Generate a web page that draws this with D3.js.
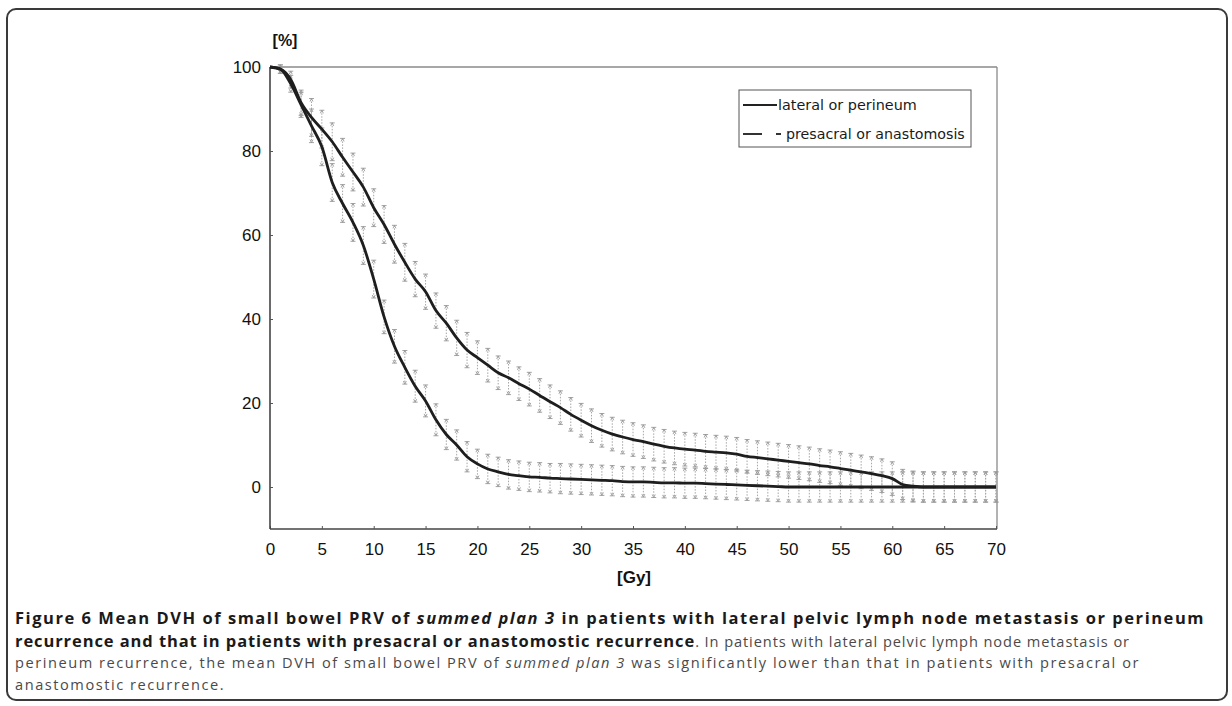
<!DOCTYPE html>
<html><head><meta charset="utf-8">
<script src="https://cdn.jsdelivr.net/npm/d3@7"></script>
<style>
html,body{margin:0;padding:0;background:#fff;}
svg{display:block;}
</style></head>
<body>
<svg id="chart" width="1232" height="706"></svg>
<script>
// ---- data ----
const doseGy = d3.range(0, 71); // 0..70 Gy, 1 Gy step
const lateralMean = [100,99.5,96,91,86,81,72.5,67.5,63,57.5,49.5,40.5,33.5,28.5,24,20.5,16,12.5,10,7.2,5.5,4.3,3.6,3.0,2.7,2.4,2.3,2.1,2.0,1.9,1.8,1.7,1.6,1.5,1.3,1.2,1.2,1.1,1.0,1.0,0.9,0.9,0.8,0.7,0.6,0.5,0.4,0.3,0.2,0.1,0,0,0,0,0,0,0,0,0,0,0,0,0,0,0,0,0,0,0,0,0];
const lateralSD   = [0,1,2,3,4,4.5,4.5,4.5,4.5,4.5,4.5,4,4,4,3.8,3.8,3.8,3.6,3.6,3.6,3.5,3.5,3.5,3.5,3.5,3.5,3.5,3.5,3.6,3.6,3.6,3.6,3.6,3.6,3.6,3.6,3.6,3.6,3.6,3.6,3.6,3.6,3.6,3.6,3.6,3.6,3.6,3.6,3.6,3.6,3.6,3.6,3.6,3.6,3.6,3.6,3.6,3.6,3.6,3.6,3.6,3.6,3.6,3.6,3.6,3.6,3.6,3.6,3.6,3.6,3.6];
const presacralMean = [100,99.5,97,91.5,88,85.2,82.2,78.5,75,71.4,66.5,62.5,57.8,53.5,49.5,46.5,42,39,35.5,32.6,30.8,29,27.2,26,24.6,23.3,21.8,20.3,18.9,17.3,15.9,14.6,13.5,12.6,11.9,11.3,10.8,10.2,9.7,9.3,9,8.8,8.5,8.3,8.1,7.8,7.3,7,6.7,6.4,6.1,5.8,5.5,5.1,4.8,4.4,4,3.6,3.2,2.7,2.0,0.6,0.2,0,0,0,0,0,0,0,0];
const presacralSD   = [0,1,2,3,4.5,4.5,4.5,4.5,4.5,4.5,4.5,4.5,4.5,4.5,4.2,4.2,4.2,4.2,4.2,4.2,4,4,4,4,4,4,4,4,4,4,4,4,4,4,4,4,4,4,4,4,4,4,4,4,4,4,4,4,4,4,4,4,4,4,4,4,4,4,4,4,4,3.6,3.6,3.6,3.6,3.6,3.6,3.6,3.6,3.6,3.6];
const xTicks = [0,5,10,15,20,25,30,35,40,45,50,55,60,65,70];
const yTicks = [0,20,40,60,80,100];
const seriesNames = ["lateral or perineum", "presacral or anastomosis"];

const svg = d3.select("#chart");

// outer frame
svg.append("rect").attr("x",7).attr("y",9).attr("width",1220).attr("height",691)
  .attr("rx",9).attr("fill","none").attr("stroke","#3a3a3a").attr("stroke-width",2);

const x = d3.scaleLinear().domain([0,70]).range([270,996]);
const y = d3.scaleLinear().domain([-10,100]).range([529,67]);

// plot frame top/right (light)
svg.append("line").attr("x1",270).attr("x2",997).attr("y1",67).attr("y2",67).attr("stroke","#8a8a8a").attr("stroke-width",1.3);
svg.append("line").attr("x1",997).attr("x2",997).attr("y1",67).attr("y2",529).attr("stroke","#8a8a8a").attr("stroke-width",1.3);

// axes
const xAxis = d3.axisBottom(x).tickValues(xTicks).tickSize(-3).tickPadding(14).tickFormat(d3.format("d"));
const gx = svg.append("g").attr("transform","translate(0,529)").call(xAxis);
const yAxis = d3.axisLeft(y).tickValues(yTicks).tickSize(-3).tickPadding(9).tickFormat(d3.format("d"));
const gy = svg.append("g").attr("transform","translate(270,0)").call(yAxis);
[gx,gy].forEach(g=>{
  g.select(".domain").attr("stroke","#444").attr("stroke-width",1.6);
  g.selectAll(".tick line").attr("stroke","#555");
  g.selectAll(".tick text").attr("fill","#111").style("font-family","'Liberation Sans', Arial, sans-serif").style("font-size","17px");
});
gy.select(".domain").attr("d","M0,67V529");
gx.select(".domain").attr("d","M270,0H997");

// axis titles
svg.append("text").attr("x",285).attr("y",46).attr("text-anchor","middle")
  .style("font-family","'Liberation Sans', Arial, sans-serif").style("font-size","16px").style("font-weight","bold").attr("fill","#111").text("[%]");
svg.append("text").attr("x",634).attr("y",583).attr("text-anchor","middle")
  .style("font-family","'Liberation Sans', Arial, sans-serif").style("font-size","17px").style("font-weight","bold").attr("fill","#111").text("[Gy]");

// error bars
const series = [
  {name: seriesNames[0], mean: lateralMean, sd: lateralSD},
  {name: seriesNames[1], mean: presacralMean, sd: presacralSD}
];
const eb = svg.append("g");
series.forEach(s=>{
  doseGy.forEach((d,i)=>{
    if (s.sd[i] <= 0) return;
    const xi = x(d), y1 = y(s.mean[i]+s.sd[i]), y2 = y(s.mean[i]-s.sd[i]);
    eb.append("line").attr("x1",xi).attr("x2",xi).attr("y1",y1).attr("y2",y2)
      .attr("stroke","#a5a5a5").attr("stroke-width",1).attr("stroke-dasharray","1.5,1.5");
    eb.append("path").attr("d",`M${xi-2.5},${y1}H${xi+2.5}M${xi},${y1}l-1.5,3M${xi},${y1}l1.5,3`)
      .attr("stroke","#999").attr("stroke-width",0.9).attr("fill","none");
    eb.append("path").attr("d",`M${xi-2.5},${y2}H${xi+2.5}M${xi},${y2}l-1.5,-3M${xi},${y2}l1.5,-3`)
      .attr("stroke","#999").attr("stroke-width",0.9).attr("fill","none");
  });
});

// mean lines
const line = d3.line().x((d,i)=>x(doseGy[i])).y(d=>y(d)).curve(d3.curveMonotoneX);
series.forEach((s,k)=>{
  svg.append("path").datum(s.mean).attr("d",line).attr("fill","none")
    .attr("stroke","#1e1e1e").attr("stroke-width",2.8).attr("stroke-linejoin","round");
});

// legend
const lg = svg.append("g");
lg.append("rect").attr("x",739).attr("y",90).attr("width",232).attr("height",57)
  .attr("fill","#fff").attr("stroke","#555").attr("stroke-width",1);
lg.append("line").attr("x1",743).attr("x2",777).attr("y1",105).attr("y2",105).attr("stroke","#222").attr("stroke-width",2);
lg.append("line").attr("x1",743).attr("x2",762).attr("y1",134).attr("y2",134).attr("stroke","#333").attr("stroke-width",2);
lg.append("line").attr("x1",776).attr("x2",781).attr("y1",134).attr("y2",134).attr("stroke","#333").attr("stroke-width",2);
const lgFont = "'DejaVu Sans', Verdana, sans-serif";
const lt1 = lg.append("text").attr("x",778).attr("y",110).style("font-family",lgFont).style("font-size","13.5px").attr("fill","#1a1a1a").text(seriesNames[0]);
const lt2 = lg.append("text").attr("x",786).attr("y",139).style("font-family",lgFont).style("font-size","13.5px").attr("fill","#1a1a1a").text(seriesNames[1]);
function fitWidth(sel, w){ const n = sel.node(); const cur = n.getComputedTextLength(); const fs = parseFloat(sel.style("font-size")); sel.style("font-size", (fs*w/cur)+"px"); }
fitWidth(lt1, 139); fitWidth(lt2, 179);

// caption
const capFont = "'Open Sans', 'Noto Sans', sans-serif";
const capLines = [
  {y:624, w:1190, parts:[["Figure 6 Mean DVH of small bowel PRV of ","b"],["summed plan 3","bi"],[" in patients with lateral pelvic lymph node metastasis or perineum","b"]]},
  {y:646.5, w:1115, parts:[["recurrence and that in patients with presacral or anastomostic recurrence","b"],[". In patients with lateral pelvic lymph node metastasis or","n"]]},
  {y:668, w:1125, parts:[["perineum recurrence, the mean DVH of small bowel PRV of ","n"],["summed plan 3","i"],[" was significantly lower than that in patients with presacral or","n"]]},
  {y:690, w:null, parts:[["anastomostic recurrence.","n"]]}
];
let lastLS = 0;
capLines.forEach(L=>{
  const t = svg.append("text").attr("x",15).attr("y",L.y).style("font-family",capFont);
  L.parts.forEach(p=>{
    const ts = t.append("tspan").text(p[0]);
    if (p[1].includes("b")) ts.style("font-weight","bold").style("font-size","16.5px").attr("fill","#1a1a1a");
    else ts.style("font-size","14.6px").attr("fill","#4a4a4a");
    if (p[1].includes("i")) ts.style("font-style","italic");
  });
  if (L.w) {
    const n = t.node();
    const cur = n.getComputedTextLength();
    const nch = L.parts.reduce((a,p)=>a+p[0].length,0);
    lastLS = (L.w - cur)/nch;
    t.style("letter-spacing", lastLS+"px");
  } else {
    t.style("letter-spacing", lastLS+"px");
  }
});
</script>
</body></html>
